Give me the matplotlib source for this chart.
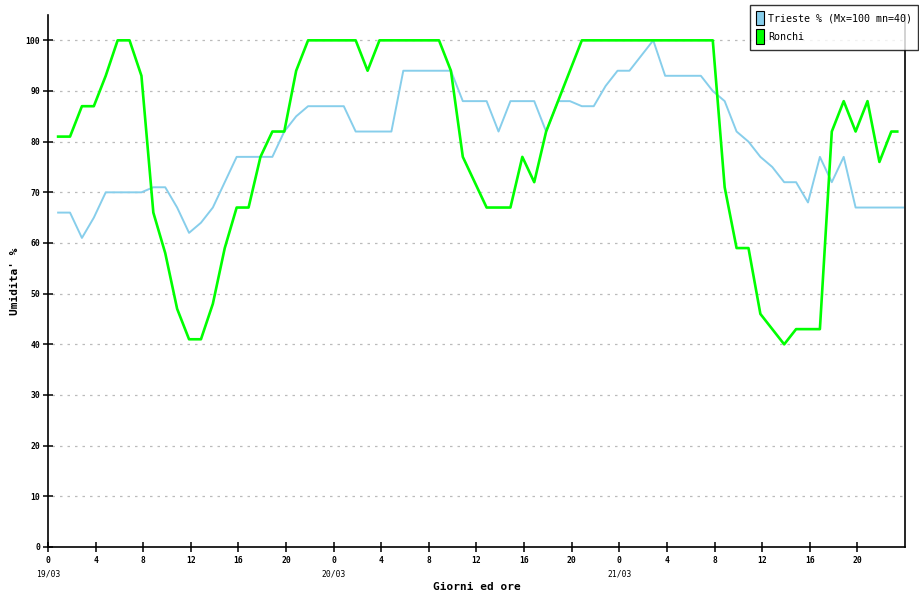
import matplotlib
matplotlib.use('Agg')  # backend non interattivo
import matplotlib.pyplot as plt
import matplotlib.transforms as mtransforms
from matplotlib.patches import Patch
import numpy as np

# ore dall'inizio del 19/03 (letture circa a xx:50)
ore = list(np.arange(72) + 0.85)

# umidita' Trieste (72 letture)
trieste = [66, 66, 61, 65, 70, 70, 70, 70, 71, 71, 67, 62,
           64, 67, 72, 77, 77, 77, 77, 82, 85, 87, 87, 87,
           87, 82, 82, 82, 82, 94, 94, 94, 94, 94, 88, 88,
           88, 82, 88, 88, 88, 82, 88, 88, 87, 87, 91, 94,
           94, 97, 100, 93, 93, 93, 93, 90, 88, 82, 80, 77,
           75, 72, 72, 68, 77, 72, 77, 67, 67, 67, 67, 67]

# umidita' Ronchi (71 letture + ultima a mezz'ora)
ore_ronchi = ore[:71] + [71.35]
ronchi = [81, 81, 87, 87, 93, 100, 100, 93, 66, 58, 47, 41,
          41, 48, 59, 67, 67, 77, 82, 82, 94, 100, 100, 100,
          100, 100, 94, 100, 100, 100, 100, 100, 100, 94, 77, 72,
          67, 67, 67, 77, 72, 82, 88, 94, 100, 100, 100, 100,
          100, 100, 100, 100, 100, 100, 100, 100, 71, 59, 59, 46,
          43, 40, 43, 43, 43, 82, 88, 82, 88, 76, 82, 82]

giorni = ['19/03', '20/03', '21/03']
tick_ore = list(range(0, 72, 4))

mono = 'DejaVu Sans Mono'

fig = plt.figure(figsize=(9.2, 6), dpi=100)
ax = fig.add_axes([48 / 920, 53 / 600, 857 / 920, 532 / 600])

# linee
ax.plot(ore, trieste, color='#87ceeb', linewidth=1.4, label='Trieste % (Mx=100 mn=40)')
ax.plot(ore_ronchi, ronchi, color='#00ff00', linewidth=1.9, label='Ronchi')

ax.set_xlim(0, 72)
ax.set_ylim(0, 105)

# griglia orizzontale tratteggiata
for v in range(10, 101, 10):
    ax.plot([0.35, 72], [v, v], color='#bbbbbb', linestyle=(0, (2, 4)), linewidth=0.9, zorder=0)

# assi
ax.spines['top'].set_visible(False)
for s in ['left', 'bottom', 'right']:
    ax.spines[s].set_linewidth(1.2)

ax.set_yticks(range(0, 101, 10))
ax.set_yticklabels([str(v) for v in range(0, 101, 10)], fontsize=5.8, family=mono, fontweight='bold')
ax.set_xticks(tick_ore)
ax.set_xticklabels([str(h % 24) for h in tick_ore], fontsize=5.8, family=mono, fontweight='bold')
ax.tick_params(axis='both', direction='inout', length=7, width=1.1, pad=3)
ax.tick_params(axis='y', pad=2)

# etichette dei giorni sotto le ore 0
trans = mtransforms.blended_transform_factory(ax.transData, ax.transAxes)
for i, g in enumerate(giorni):
    ax.text(i * 24, -0.05, g, transform=trans, ha='center', va='center',
            fontsize=5.8, family=mono)

ax.set_xlabel('Giorni ed ore', fontsize=8, family=mono, fontweight='bold', labelpad=12)
ax.set_ylabel("Umidita' %", fontsize=8, family=mono, fontweight='bold', labelpad=4)

# legenda in alto a destra
handles = [Patch(facecolor='#87ceeb', edgecolor='black', linewidth=0.8),
           Patch(facecolor='#00ff00', edgecolor='black', linewidth=0.8)]
leg = fig.legend(handles, ['Trieste % (Mx=100 mn=40)', 'Ronchi'],
                 loc='upper right', bbox_to_anchor=(0.998, 0.992),
                 prop={'family': mono, 'size': 7.2}, frameon=True, fancybox=False,
                 edgecolor='black', borderpad=0.6, handlelength=0.8, handleheight=1.8,
                 handletextpad=0.4, labelspacing=0.45, borderaxespad=0)
leg.get_frame().set_linewidth(1.0)

plt.savefig('out.png', dpi=100)
